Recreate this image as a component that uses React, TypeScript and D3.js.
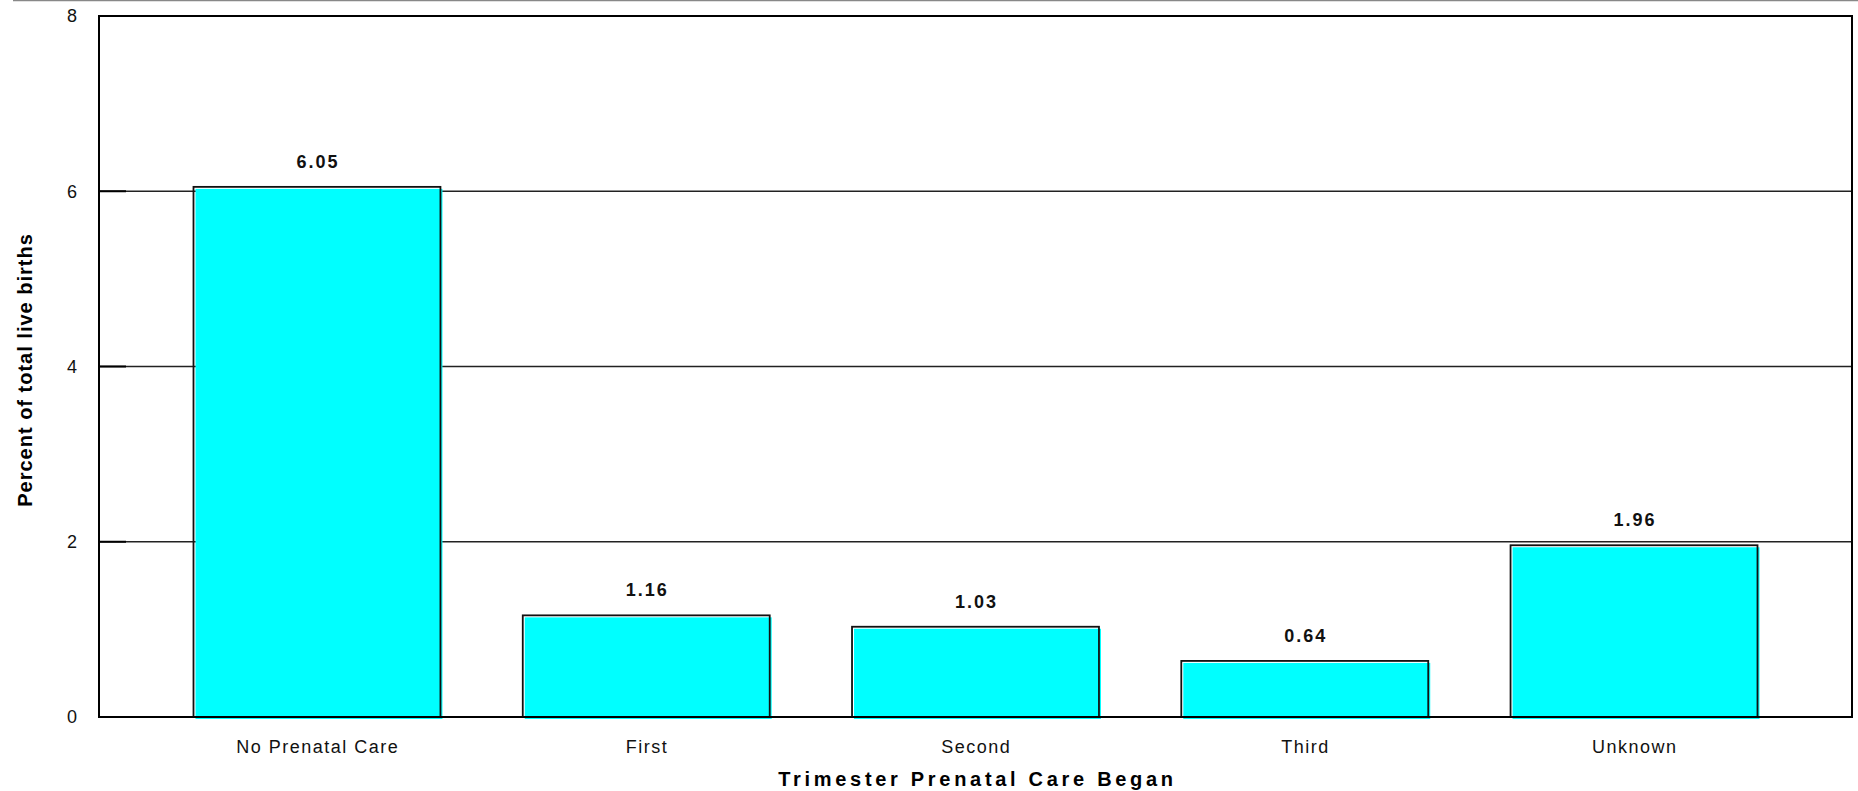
import React, { useEffect, useRef } from 'react'
import * as d3 from 'd3'

const categories = ['No Prenatal Care', 'First', 'Second', 'Third', 'Unknown']
const percents = [6.05, 1.16, 1.03, 0.64, 1.96]
const yTicks = [0, 2, 4, 6, 8]

const W = 1858
const H = 791
const FONT = '"Liberation Sans", Arial, Helvetica, sans-serif'

export default function App() {
  const ref = useRef<SVGSVGElement>(null)

  useEffect(() => {
    const svg = d3.select(ref.current)
    svg.selectAll('*').remove()

    const left = 99
    const right = 1852
    const top = 16
    const bottom = 717

    const x = d3
      .scaleBand()
      .domain(categories)
      .range([left, right])
      .paddingInner(0.25)
      .paddingOuter(0.287)
    const y = d3.scaleLinear().domain([0, 8]).range([bottom, top])

    // thin rule across the very top of the page
    svg
      .append('line')
      .attr('x1', 13)
      .attr('x2', W)
      .attr('y1', 0.5)
      .attr('y2', 0.5)
      .attr('stroke', '#888')
      .attr('stroke-width', 1.5)

    // gridlines
    svg
      .append('g')
      .selectAll('line')
      .data(yTicks.filter(t => t > 0 && t < 8))
      .enter()
      .append('line')
      .attr('x1', left)
      .attr('x2', right)
      .attr('y1', d => y(d))
      .attr('y2', d => y(d))
      .attr('stroke', '#222')
      .attr('stroke-width', 1.4)

    // inner tick marks
    svg
      .append('g')
      .selectAll('line')
      .data(yTicks)
      .enter()
      .append('line')
      .attr('x1', left)
      .attr('x2', left + 27)
      .attr('y1', d => y(d))
      .attr('y2', d => y(d))
      .attr('stroke', '#000')
      .attr('stroke-width', 2)

    // tick labels
    svg
      .append('g')
      .selectAll('text')
      .data(yTicks)
      .enter()
      .append('text')
      .attr('x', 77)
      .attr('y', d => y(d))
      .attr('dy', '0.35em')
      .attr('text-anchor', 'end')
      .attr('font-family', FONT)
      .attr('font-size', 18)
      .attr('fill', '#111')
      .text(d => d)

    // bars: cyan fill slightly offset, black outline on top
    const bars = svg
      .append('g')
      .selectAll('g')
      .data(percents)
      .enter()
      .append('g')

    bars
      .append('rect')
      .attr('x', (d, i) => (x(categories[i]) as number) + 2)
      .attr('y', d => y(d) + 2)
      .attr('width', x.bandwidth())
      .attr('height', d => y(0) - y(d))
      .attr('fill', '#00FFFF')

    bars
      .append('rect')
      .attr('x', (d, i) => x(categories[i]) as number)
      .attr('y', d => y(d))
      .attr('width', x.bandwidth())
      .attr('height', d => y(0) - y(d))
      .attr('fill', 'none')
      .attr('stroke', '#111')
      .attr('stroke-width', 1.8)

    bars
      .append('text')
      .attr('x', (d, i) => (x(categories[i]) as number) + x.bandwidth() / 2 + 1)
      .attr('y', d => y(d) - 19)
      .attr('text-anchor', 'middle')
      .attr('font-family', FONT)
      .attr('font-size', 18)
      .attr('font-weight', 'bold')
      .attr('letter-spacing', 2)
      .attr('fill', '#111')
      .text(d => d.toFixed(2))

    // plot frame
    svg
      .append('rect')
      .attr('x', left)
      .attr('y', top)
      .attr('width', right - left)
      .attr('height', bottom - top)
      .attr('fill', 'none')
      .attr('stroke', '#000')
      .attr('stroke-width', 2)

    // category labels
    svg
      .append('g')
      .selectAll('text')
      .data(categories)
      .enter()
      .append('text')
      .attr('x', d => (x(d) as number) + x.bandwidth() / 2 + 0.75)
      .attr('y', 753)
      .attr('text-anchor', 'middle')
      .attr('font-family', FONT)
      .attr('font-size', 18)
      .attr('letter-spacing', 1.5)
      .attr('fill', '#111')
      .text(d => d)

    // axis titles
    svg
      .append('text')
      .attr('x', (left + right) / 2 + 2)
      .attr('y', 786)
      .attr('text-anchor', 'middle')
      .attr('font-family', FONT)
      .attr('font-size', 20)
      .attr('font-weight', 'bold')
      .attr('letter-spacing', 3.7)
      .attr('fill', '#000')
      .text('Trimester Prenatal Care Began')

    svg
      .append('text')
      .attr('transform', 'translate(32, 370) rotate(-90)')
      .attr('text-anchor', 'middle')
      .attr('font-family', FONT)
      .attr('font-size', 20)
      .attr('font-weight', 'bold')
      .attr('letter-spacing', 1)
      .attr('fill', '#000')
      .text('Percent of total live births')
  }, [])

  return (
    <svg
      ref={ref}
      width={W}
      height={H}
      style={{ position: 'absolute', left: 0, top: 0, background: '#fff' }}
    />
  )
}
